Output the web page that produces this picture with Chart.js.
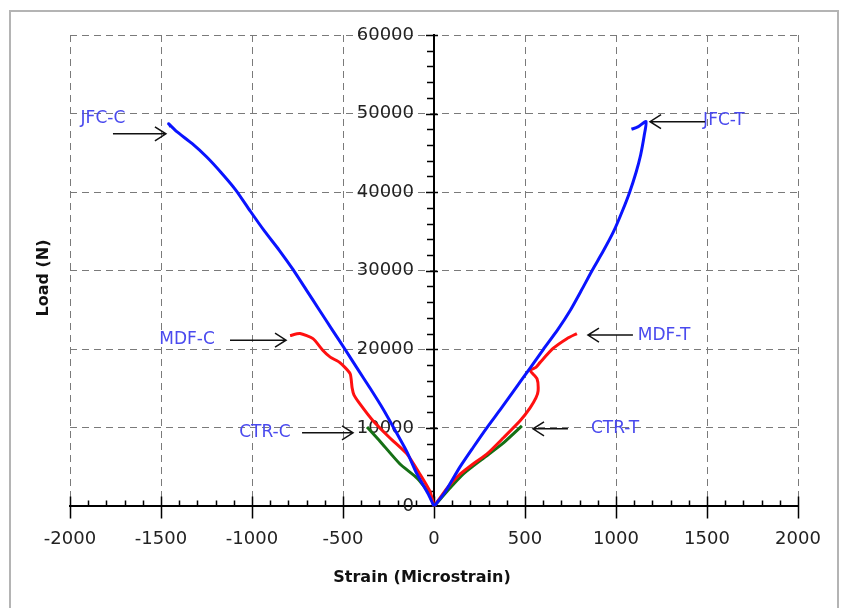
<!DOCTYPE html>
<html>
<head>
<meta charset="utf-8">
<script src="https://cdn.jsdelivr.net/npm/chart.js@4/dist/chart.umd.min.js"></script>
<style>
  html, body { margin: 0; padding: 0; background: #fff; overflow: hidden; }
  #wrap { position: relative; width: 845px; height: 608px; }
  #frame { position: absolute; left: 9px; top: 10px; width: 830px; height: 640px; border: 2px solid #b4b4b4; box-sizing: border-box; }
  canvas { position: absolute; left: 0; top: 0; }
</style>
</head>
<body>
<div id="wrap">
  <div id="frame"></div>
  <canvas id="c" width="845" height="608"></canvas>
</div>
<script>
// ── data (strain in microstrain, load in N) ───────────────────
const jfcCStrain = [0, -30, -93, -150, -214, -280, -350, -420, -489, -560, -630, -700, -776, -850, -930, -1010, -1087, -1170, -1250, -1330, -1413, -1458, -1445];
const jfcCLoad   = [0, 1500, 4100, 7000, 9700, 12400, 15000, 17500, 20000, 22500, 25000, 27500, 30200, 32600, 35000, 37600, 40200, 42500, 44500, 46200, 47700, 48700, 48300];
const jfcTStrain = [0, 60, 142, 215, 290, 370, 447, 525, 601, 680, 750, 810, 868, 930, 987, 1035, 1075, 1110, 1135, 1155, 1165, 1120, 1085];
const jfcTLoad   = [0, 1800, 5000, 7500, 10000, 12500, 15000, 17500, 20000, 22500, 25000, 27500, 30000, 32500, 35000, 37600, 40000, 42500, 44700, 47200, 49000, 48300, 48000];
const mdfCStrain = [0, -22, -77, -148, -242, -335, -407, -440, -450, -461, -517, -570, -610, -665, -736, -791];
const mdfCLoad   = [0, 1900, 4100, 6650, 8700, 10900, 13050, 14200, 15100, 16900, 18300, 19000, 19850, 21350, 22000, 21750];
const mdfTStrain = [0, 71, 143, 220, 290, 380, 473, 528, 560, 572, 566, 528, 560, 582, 654, 730, 785];
const mdfTLoad   = [0, 2300, 4100, 5500, 6650, 8700, 10900, 12550, 13800, 14700, 16250, 17300, 17700, 18300, 20100, 21350, 22000];
const ctrCStrain = [0, -22, -93, -187, -297, -368];
const ctrCLoad   = [0, 1500, 3600, 5400, 8300, 10100];
const ctrTStrain = [0, 71, 160, 270, 380, 483];
const ctrTLoad   = [0, 1900, 4100, 6100, 8050, 10250];

const xTicks = [-2000, -1500, -1000, -500, 0, 500, 1000, 1500, 2000];
const yTicks = [0, 10000, 20000, 30000, 40000, 50000, 60000];

// callout labels: [text, labelX, labelY, arrowFromX, arrowToX, arrowY]
const callouts = [
  ["JFC-C", -1819, 49360, -1764, -1473, 47430],
  ["JFC-T",  1593, 49100,  1489,  1187, 48970],
  ["MDF-C", -1357, 21280, -1121,  -813, 21150],
  ["MDF-T",  1264, 21800,  1093,   846, 21800],
  ["CTR-C",  -929,  9360,  -725,  -445,  9360],
  ["CTR-T",   995,  9870,   736,   544,  9870],
];

const pts = (xs, ys) => xs.map((x, i) => ({ x, y: ys[i] }));
const FONT = "'DejaVu Sans', sans-serif";

// ── axis tick marks, y labels, axis titles and callouts ───────
const decor = {
  id: "decor",
  beforeDatasetsDraw(chart) {
    const { ctx, scales: { x, y } } = chart;
    const x0 = x.getPixelForValue(0), yb = y.getPixelForValue(0);
    ctx.save();
    ctx.strokeStyle = "#000"; ctx.lineWidth = 1.5;
    ctx.beginPath();
    for (let v = -2000; v <= 2000; v += 100) {
      const px = Math.round(x.getPixelForValue(v)) + 0.5;
      if (v % 500 === 0) { ctx.moveTo(px, yb - 10); ctx.lineTo(px, yb + 12); }
      else { ctx.moveTo(px, yb - 6); ctx.lineTo(px, yb); }
    }
    for (let v = 2000; v <= 60000; v += 2000) {
      const py = Math.round(y.getPixelForValue(v)) + 0.5;
      if (v % 10000 === 0) { ctx.moveTo(x0 - 8, py); ctx.lineTo(x0 + 4, py); }
      else { ctx.moveTo(x0 - 7, py); ctx.lineTo(x0, py); }
    }
    ctx.stroke();
    // y tick labels sit left of the centred axis
    ctx.fillStyle = "#222"; ctx.font = `18px ${FONT}`;
    ctx.textAlign = "right"; ctx.textBaseline = "middle";
    yTicks.forEach(v => ctx.fillText(String(v), x0 - 20, y.getPixelForValue(v)));
    ctx.restore();
  },
  afterDraw(chart) {
    const { ctx, scales: { x, y } } = chart;
    ctx.save();
    ctx.fillStyle = "#111";
    ctx.textAlign = "center"; ctx.textBaseline = "middle";
    ctx.font = `bold 16px ${FONT}`;
    ctx.fillText("Strain (Microstrain)", 422, 578);
    ctx.translate(44, 278); ctx.rotate(-Math.PI / 2);
    ctx.fillText("Load (N)", 0, 0);
    ctx.restore();

    ctx.save();
    ctx.font = `17px ${FONT}`;
    ctx.textAlign = "center"; ctx.textBaseline = "middle";
    ctx.lineWidth = 1.5; ctx.strokeStyle = "#111";
    callouts.forEach(([t, lx, ly, ax0, ax1, ay]) => {
      ctx.fillStyle = "#4a4aee";
      ctx.fillText(t, x.getPixelForValue(lx), y.getPixelForValue(ly));
      const a = x.getPixelForValue(ax0), b = x.getPixelForValue(ax1), py = y.getPixelForValue(ay);
      const dir = b > a ? 1 : -1;
      ctx.beginPath();
      ctx.moveTo(a, py); ctx.lineTo(b, py);
      ctx.moveTo(b - dir * 11, py - 7); ctx.lineTo(b, py); ctx.lineTo(b - dir * 11, py + 7);
      ctx.stroke();
    });
    ctx.restore();
  },
};

const line = (data, color) => ({ data, borderColor: color, borderWidth: 3, pointRadius: 0, tension: 0.2, fill: false, showLine: true });

new Chart(document.getElementById("c"), {
  type: "scatter",
  data: {
    datasets: [
      line(pts(jfcCStrain, jfcCLoad), "#0a14ff"),
      line(pts(jfcTStrain, jfcTLoad), "#0a14ff"),
      line(pts(mdfCStrain, mdfCLoad), "#ff1010"),
      line(pts(mdfTStrain, mdfTLoad), "#ff1010"),
      line(pts(ctrCStrain, ctrCLoad), "#157015"),
      line(pts(ctrTStrain, ctrTLoad), "#157015"),
    ],
  },
  options: {
    responsive: false, animation: false, devicePixelRatio: 1,
    layout: { padding: { left: 70, right: 47, top: 35, bottom: 36 } },
    plugins: { legend: { display: false }, tooltip: { enabled: false } },
    scales: {
      x: {
        type: "linear", position: "bottom", min: -2000, max: 2000,
        afterBuildTicks: s => { s.ticks = xTicks.map(value => ({ value })); },
        afterFit: s => { s.paddingLeft = 0; s.paddingRight = 0; },
        grid: { color: "#7a7a7a", lineWidth: 1, drawTicks: false },
        border: { display: true, color: "#000", width: 2, dash: [7, 5] },
        ticks: { padding: 22, color: "#222", font: { family: FONT, size: 18 }, callback: v => String(v) },
      },
      y: {
        type: "linear", position: { x: 0 }, min: 0, max: 60000,
        afterBuildTicks: s => { s.ticks = yTicks.map(value => ({ value })); },
        afterFit: s => { s.paddingTop = 0; s.paddingBottom = 0; },
        grid: { color: "#7a7a7a", lineWidth: 1, drawTicks: false },
        border: { display: true, color: "#000", width: 2, dash: [7, 5] },
        ticks: { display: false },
      },
    },
  },
  plugins: [decor],
});
</script>
</body>
</html>
